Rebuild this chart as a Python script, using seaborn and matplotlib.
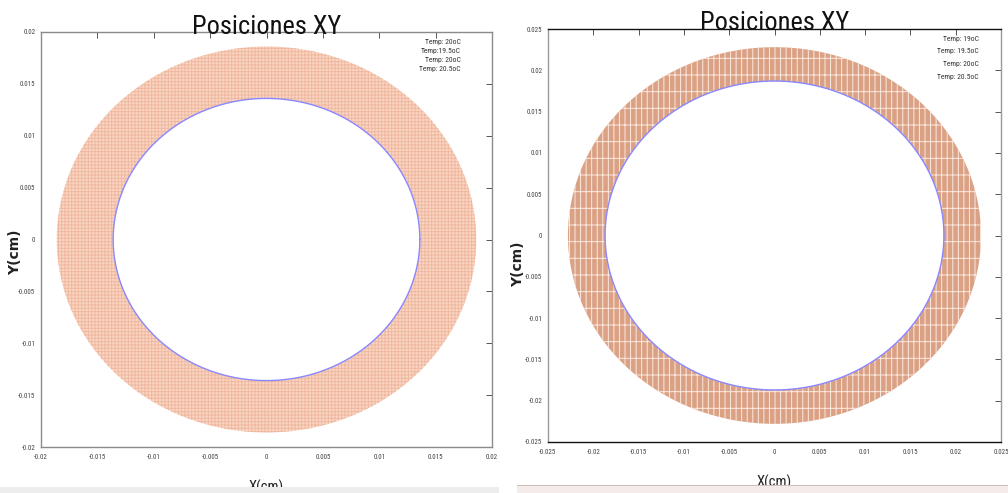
import numpy as np
import pandas as pd
import matplotlib
matplotlib.use("Agg")
import matplotlib.pyplot as plt
from matplotlib import font_manager
from matplotlib.patches import Wedge, Rectangle
from matplotlib.lines import Line2D
import seaborn as sns

# ---- data ---------------------------------------------------------------
panels = ["a", "b"]
ring_outer = [0.0186, 0.0228]      # outer radius of the position ring (cm)
ring_inner = [0.0136, 0.0187]      # inner radius / blue boundary (cm)
axis_limit = [0.02, 0.025]
tick_step = [0.005, 0.005]
temps_a = ["Temp: 20oC", "Temp:19.5oC", "Temp: 20oC", "Temp: 20.5oC"]
temps_b = ["Temp: 19oC", "Temp: 19.5oC", "Temp: 20oC", "Temp: 20.5oC"]
title = "Posiciones XY"
xlabel = "X(cm)"
ylabel = "Y(cm)"

sns.set_theme(style="white")


def pick_font(cands):
    for c in cands:
        try:
            font_manager.findfont(font_manager.FontProperties(family=c),
                                  fallback_to_default=False)
            return c
        except Exception:
            continue
    return "DejaVu Sans"


narrow = pick_font(["Liberation Sans Narrow", "DejaVu Sans Condensed",
                    "Roboto Condensed", "Open Sans Condensed", "Liberation Sans"])
plt.rcParams["font.family"] = [narrow, "DejaVu Sans"]
plt.rcParams["hatch.linewidth"] = 0.7

fig = plt.figure(figsize=(10.08, 4.93), dpi=100)

# axes rectangles in figure fractions
rects = [
    [41 / 1008, (493 - 447) / 493, 451 / 1008, 415 / 493],
    [548 / 1008, (493 - 442) / 493, 453 / 1008, 413 / 493],
]
fills = ["#f9d6c5", "#dba185"]
hatch_cols = ["#f0b99f", "#fbe9df"]
hatches = ["+++++", "|||-"]
spine_cols = [("#8a8a8a", "#8a8a8a"), ("#9a9a9a", "#111111")]
legend_sets = [temps_a, temps_b]
legend_gap = [0.35, 0.85]
legend_anchor = [(0.931, 0.985), (0.951, 0.985)]
ylabel_pos = [(-0.058, 0.47), (-0.066, 0.43)]

theta = np.linspace(0, 2 * np.pi, 721)

for i, rect in enumerate(rects):
    ax = fig.add_axes(rect)
    lim = axis_limit[i]
    ax.set_xlim(-lim, lim)
    ax.set_ylim(-lim, lim)

    # filled ring of sampled positions
    ring = Wedge((0, 0), ring_outer[i], 0, 360,
                 width=ring_outer[i] - ring_inner[i],
                 facecolor=fills[i], edgecolor=hatch_cols[i],
                 hatch=hatches[i], linewidth=0)
    ax.add_patch(ring)

    # inner boundary
    circ = pd.DataFrame({"x": ring_inner[i] * np.cos(theta),
                         "y": ring_inner[i] * np.sin(theta)})
    sns.lineplot(data=circ, x="x", y="y", sort=False, ax=ax,
                 color="#8a88ff", linewidth=1.0, estimator=None)

    ticks = np.round(np.arange(-lim, lim + 1e-9, tick_step[i]), 4)
    labels = ["0" if t == 0 else ("%g" % t) for t in ticks]
    ax.set_xticks(ticks)
    ax.set_yticks(ticks)
    ax.set_xticklabels(labels)
    ax.set_yticklabels(labels)
    ax.tick_params(axis="both", which="both", direction="in", length=4,
                   width=0.7, color="#555555", labelsize=5,
                   labelcolor="#444444", top=True, right=True, pad=5)
    ax.tick_params(axis="y", pad=4)
    ax.set_xlabel("")
    ax.set_ylabel("")

    side_col, tb_col = spine_cols[i]
    for s in ["left", "right"]:
        ax.spines[s].set_color(side_col)
        ax.spines[s].set_linewidth(1.0)
    for s in ["top", "bottom"]:
        ax.spines[s].set_color(tb_col)
        ax.spines[s].set_linewidth(1.0)

    ax.text(0.5, 1.0 - 1.5 / 415, title, transform=ax.transAxes,
            ha="center", va="baseline", fontsize=19, color="#111111")
    ax.text(0.5, -0.078, xlabel, transform=ax.transAxes, ha="center",
            va="top", fontsize=10.5, color="#222222")
    ax.text(ylabel_pos[i][0], ylabel_pos[i][1], ylabel, transform=ax.transAxes,
            ha="center", va="center", rotation=90, fontsize=10,
            color="#222222", family="DejaVu Sans", fontweight="bold")

    handles = [Line2D([], [], linestyle="none") for _ in legend_sets[i]]
    leg = ax.legend(handles, legend_sets[i], loc="upper right",
                    bbox_to_anchor=legend_anchor[i],
                    frameon=False, handlelength=0, handletextpad=0,
                    markerfirst=False, fontsize=5.5,
                    labelspacing=legend_gap[i], borderaxespad=0,
                    borderpad=0)
    for t in leg.get_texts():
        t.set_color("#333333")

# thin bands along the bottom of each half
fig.patches.append(Rectangle((0, 0), 499 / 1008, 6 / 493,
                             transform=fig.transFigure,
                             facecolor="#ededed", edgecolor="none"))
fig.patches.append(Rectangle((517 / 1008, 0), 491 / 1008, 8 / 493,
                             transform=fig.transFigure,
                             facecolor="#f3ecea", edgecolor="none"))
fig.patches.append(Rectangle((517 / 1008, 7 / 493), 491 / 1008, 1.2 / 493,
                             transform=fig.transFigure,
                             facecolor="#d2bfb6", edgecolor="none"))

fig.savefig("out.png", dpi=100)
